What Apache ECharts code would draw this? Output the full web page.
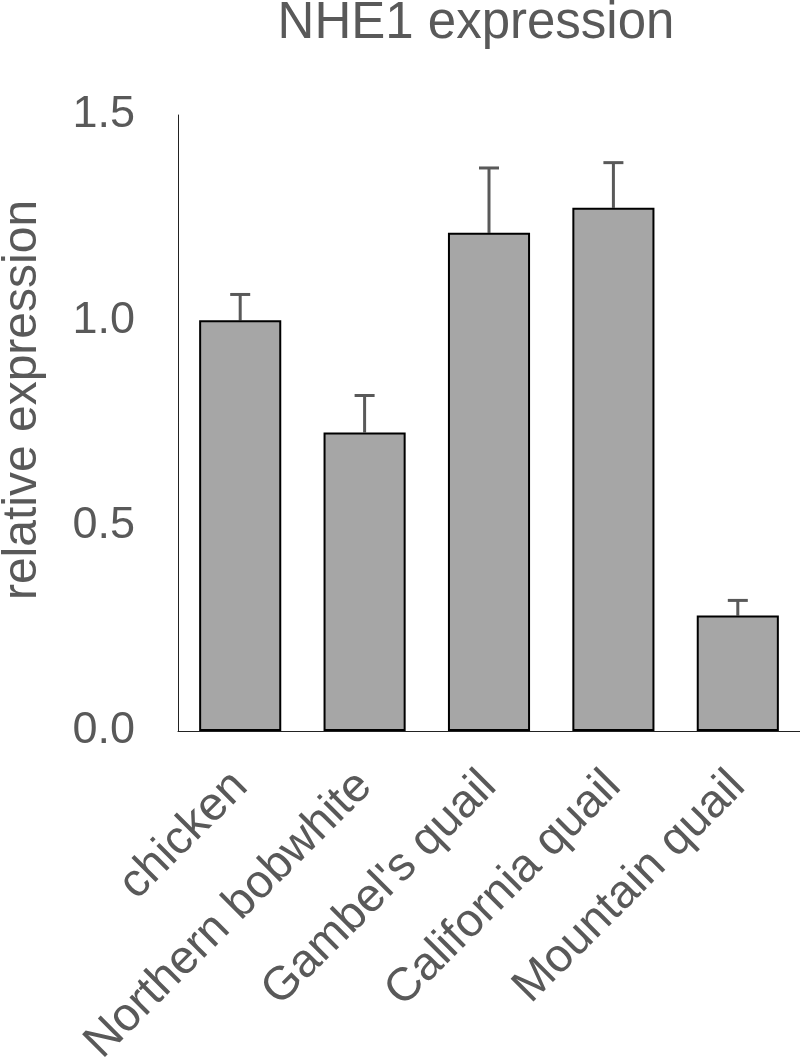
<!DOCTYPE html>
<html><head><meta charset="utf-8">
<script src="https://cdn.jsdelivr.net/npm/echarts@6/dist/echarts.min.js"></script>
<style>html,body{margin:0;padding:0;background:#fff}#c{width:800px;height:1063px}</style>
</head><body><div id="c"></div>
<script>
const categories = ["chicken", "Northern bobwhite", "Gambel's quail", "California quail", "Mountain quail"];
const means = [1.0, 0.727, 1.213, 1.274, 0.281];
const errors = [0.063, 0.090, 0.158, 0.110, 0.037];
const yTicks = [0, 0.5, 1.0, 1.5];

const txt = '#595959';
const font = 'Liberation Sans, Arial, sans-serif';
const chart = echarts.init(document.getElementById('c'));
chart.setOption({
  animation: false,
  title: {text: 'NHE1 expression', left: 471, top: -7, textAlign: 'center',
    textStyle: {color: txt, fontSize: 51, fontWeight: 'normal', fontFamily: font}},
  grid: {left: 178, right: 0, top: 115, bottom: 332, containLabel: false, outerBoundsMode: 'none'},
  graphic: [{type: 'text', x: 23, y: 400, rotation: Math.PI/2,
    style: {text: 'relative expression', fill: txt, font: '48px ' + font, textAlign: 'center', textVerticalAlign: 'middle'}}],
  xAxis: {type: 'category', data: categories,
    axisLine: {lineStyle: {color: '#222', width: 1}}, axisTick: {show: false},
    axisLabel: {rotate: 45, interval: 0, color: txt, fontSize: 47, fontFamily: font, margin: 48}},
  yAxis: {type: 'value', min: yTicks[0], max: yTicks[yTicks.length-1], interval: 0.5,
    splitLine: {show: false}, axisTick: {show: false},
    axisLine: {show: true, lineStyle: {color: '#222', width: 1}},
    axisLabel: {color: txt, fontSize: 45, fontFamily: font, margin: 43, formatter: v => v.toFixed(1)}},
  series: [
    {type: 'bar', data: means, barWidth: '66%',
      itemStyle: {color: '#a6a6a6', borderColor: '#000', borderWidth: 2}},
    {type: 'custom', z: 1,
      data: means.map((m, i) => [i, m, m + errors[i]]),
      renderItem: (params, api) => {
        const p0 = api.coord([api.value(0), api.value(1)]);
        const p1 = api.coord([api.value(0), api.value(2)]);
        const hw = 10;
        const st = {stroke: '#595959', lineWidth: 3};
        return {type: 'group', children: [
          {type: 'line', shape: {x1: p0[0], y1: p0[1], x2: p1[0], y2: p1[1]}, style: st},
          {type: 'line', shape: {x1: p1[0]-hw, y1: p1[1], x2: p1[0]+hw, y2: p1[1]}, style: st}
        ]};
      }}
  ]
});
</script></body></html>
